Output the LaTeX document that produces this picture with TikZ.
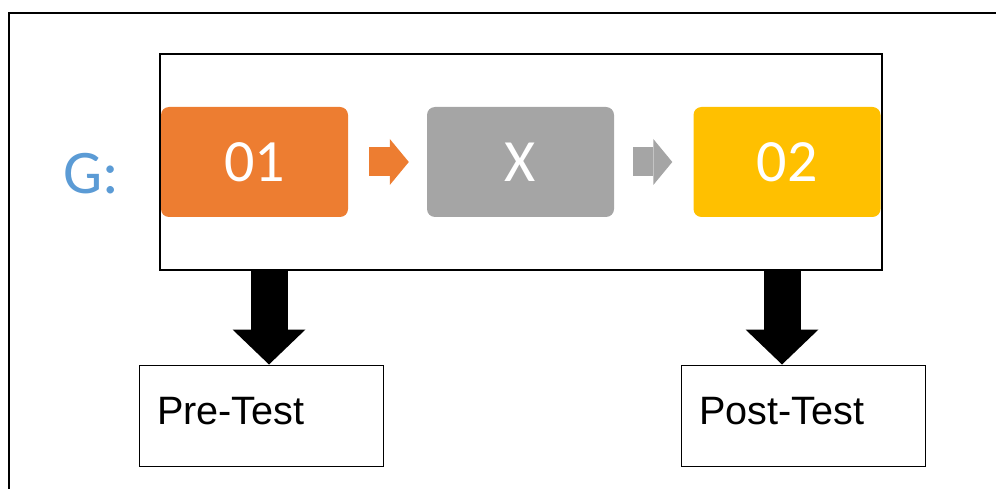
\documentclass[tikz,border=0pt]{standalone}
\usepackage{fontspec}
\setmainfont{Liberation Sans}
\newfontfamily\calfont{Carlito}
\usetikzlibrary{arrows.meta}

\definecolor{boxorange}{HTML}{ED7D31}
\definecolor{boxgray}{HTML}{A5A5A5}
\definecolor{boxyellow}{HTML}{FFC000}
\definecolor{groupblue}{HTML}{5B9BD5}

\begin{document}
\begin{tikzpicture}[x=1pt,y=-1pt]
        \tikzset{phase/.style = {rounded corners=8pt,minimum width=187pt,minimum height=110pt,text=white,font=\calfont\fontsize{60}{72}\selectfont}}
        \tikzset{test/.style = {draw,line width=1pt,minimum width=244pt,minimum height=101pt,text width=208pt,inner xsep=18pt,align=left,text depth=10pt,font=\fontsize{39.6}{47}\selectfont}}
        \tikzset{flow/.style = {line width=29pt,-{Triangle[length=19pt,width=46pt,line width=0pt]}}}
        \tikzset{drop/.style = {line width=37pt,-{Triangle[length=35pt,width=73pt,line width=0pt]}}}
        \useasboundingbox (0,0) rectangle (996,489);
        \draw[line width=1.5pt] (9,489) -- (9,13) -- (996,13);
        % nodes
        \node[draw,line width=1.3pt,minimum width=722pt,minimum height=216pt] (group) at (521,162) {};
        \node[text=groupblue,font=\calfont\fontsize{62}{74}\selectfont] (label) at (91.5,173.5) {G:};
        \node[phase,fill=boxorange] (o1) at (254.5,162) {01};
        \node[phase,fill=boxgray] (x) at (520.5,162) {X};
        \node[phase,fill=boxyellow] (o2) at (787,162) {02};
        \node[test] (pre) at (261,415.5) {Pre-Test};
        \node[test] (post) at (803,415.5) {Post-Test};
        \coordinate (pretop) at ([xshift=8pt]pre.north);
        \coordinate (posttop) at ([xshift=-21pt]post.north);
        % arrows
        \draw[flow,boxorange,shorten <=21pt,shorten >=18pt] (o1) -- (x);
        \draw[flow,boxgray,shorten <=19pt,shorten >=21pt] (x) -- (o2);
        \draw[drop] (pretop |- group.south) -- (pretop);
        \draw[drop] (posttop |- group.south) -- (posttop);
\end{tikzpicture}
\end{document}
